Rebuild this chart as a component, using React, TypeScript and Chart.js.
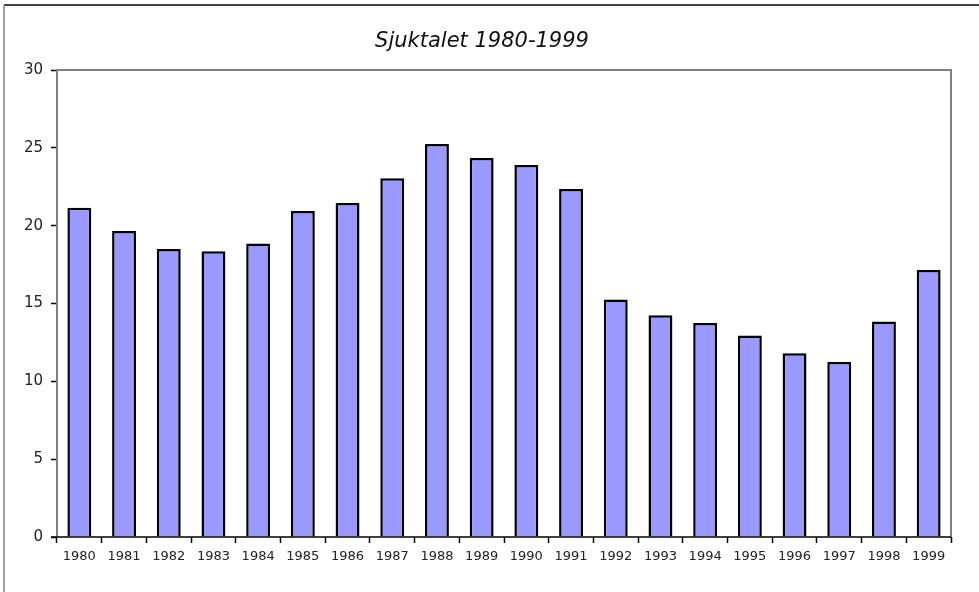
import React, { useEffect, useRef } from "react";
import { Chart, registerables } from "chart.js";

Chart.register(...registerables);

const TITLE = "Sjuktalet 1980-1999";
const years = ["1980","1981","1982","1983","1984","1985","1986","1987","1988","1989","1990","1991","1992","1993","1994","1995","1996","1997","1998","1999"];
const sickRate = [21.15, 19.65, 18.5, 18.35, 18.85, 20.95, 21.45, 23.05, 25.25, 24.35, 23.9, 22.35, 15.25, 14.25, 13.75, 12.95, 11.8, 11.25, 13.85, 17.15];
const yTicks = [0, 5, 10, 15, 20, 25, 30];

const FONT = "'DejaVu Sans', Verdana, sans-serif";

const framePlugin = {
  id: "frame",
  beforeDraw(chart: any) {
    const ctx = chart.ctx;
    ctx.save();
    ctx.fillStyle = "#ffffff";
    ctx.fillRect(0, 0, chart.width, chart.height);
    // outer frame
    ctx.strokeStyle = "#000000";
    ctx.lineWidth = 1.5;
    ctx.beginPath();
    ctx.moveTo(4, 5);
    ctx.lineTo(chart.width, 5);
    ctx.stroke();
    ctx.strokeStyle = "#808080";
    ctx.beginPath();
    ctx.moveTo(4, 5);
    ctx.lineTo(4, chart.height);
    ctx.stroke();
    // title
    ctx.fillStyle = "#111111";
    ctx.font = "italic 21px " + FONT;
    ctx.textAlign = "center";
    ctx.textBaseline = "middle";
    ctx.fillText(TITLE, 482, 42);
    ctx.restore();
  },
  afterDatasetsDraw(chart: any) {
    const { left, right, top, bottom } = chart.chartArea;
    const ctx = chart.ctx;
    ctx.save();
    ctx.strokeStyle = "#808080";
    ctx.lineWidth = 2;
    ctx.beginPath();
    ctx.moveTo(left, bottom);
    ctx.lineTo(left, top);
    ctx.lineTo(right, top);
    ctx.lineTo(right, bottom);
    ctx.stroke();
    ctx.strokeStyle = "#000000";
    ctx.lineWidth = 1.5;
    ctx.beginPath();
    ctx.moveTo(left - 6, bottom);
    ctx.lineTo(right, bottom);
    ctx.stroke();
    ctx.restore();
  },
};

export default function App() {
  const ref = useRef<HTMLCanvasElement>(null);
  useEffect(() => {
    document.body.style.margin = "0";
    const chart = new Chart(ref.current!, {
      type: "bar",
      data: {
        labels: years,
        datasets: [
          {
            data: sickRate,
            backgroundColor: "#9999FF",
            borderColor: "#000000",
            borderWidth: 2.5,
            barPercentage: 0.535,
            categoryPercentage: 1,
          },
        ],
      },
      options: {
        animation: false,
        responsive: false,
        layout: { padding: { left: 0, right: 28, top: 70, bottom: 0 } },
        plugins: { legend: { display: false }, tooltip: { enabled: false }, title: { display: false } },
        scales: {
          x: {
            offset: true,
            grid: { offset: true, drawOnChartArea: false, tickLength: 6, tickColor: "#000000", tickWidth: 1.5 },
            border: { display: false },
            ticks: { color: "#222", font: { family: FONT, size: 13 }, padding: 6, maxRotation: 0, autoSkip: false },
            afterFit: (s: any) => { s.height = 55; },
          },
          y: {
            min: 0,
            max: 30,
            afterBuildTicks: (s: any) => { s.ticks = yTicks.map((v) => ({ value: v })); },
            grid: { drawOnChartArea: false, tickLength: 6, tickColor: "#000000", tickWidth: 1.5 },
            border: { display: false },
            ticks: { color: "#222", font: { family: FONT, size: 15 }, padding: 8 },
            afterFit: (s: any) => { s.width = 57; },
          },
        },
      },
      plugins: [framePlugin],
    });
    return () => chart.destroy();
  }, []);
  return (
    <div style={{ position: "absolute", left: 0, top: 0, width: 979, height: 592 }}>
      <canvas ref={ref} width={979} height={592} />
    </div>
  );
}
